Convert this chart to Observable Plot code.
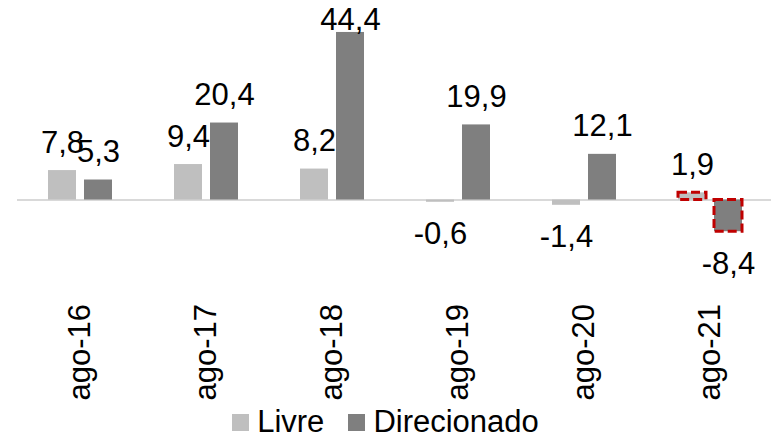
<!DOCTYPE html>
<html>
<head>
<meta charset="utf-8">
<script src="https://cdn.jsdelivr.net/npm/d3@7"></script>
<script src="https://cdn.jsdelivr.net/npm/@observablehq/plot@0.6"></script>
<style>
  html, body { margin: 0; padding: 0; background: #fff; overflow: hidden; }
  #chart { width: 771px; }
  .legend { display: flex; justify-content: center; align-items: center; height: 34px;
            font-family: "Liberation Sans", Arial, sans-serif; font-size: 31px; color: #000; }
  .legend .sw { width: 17px; height: 17px; display: inline-block; margin-right: 8px; }
  .legend .item { display: flex; align-items: center; margin: 0 12px; }
</style>
</head>
<body>
<div id="chart"></div>
<script>
const years = ["ago-16", "ago-17", "ago-18", "ago-19", "ago-20", "ago-21"];
const livre = [7.8, 9.4, 8.2, -0.6, -1.4, 1.9];
const direcionado = [5.3, 20.4, 44.4, 19.9, 12.1, -8.4];
const seriesNames = ["Livre", "Direcionado"];
const seriesColors = ["#bfbfbf", "#7f7f7f"];
const highlightYear = "ago-21";

const data = years.flatMap((y, i) => [
  {year: y, series: "Livre", value: livre[i]},
  {year: y, series: "Direcionado", value: direcionado[i]}
]);
const fmt = d => d.value.toFixed(1).replace(".", ",");

const chart = Plot.plot({
  width: 771,
  height: 405,
  marginLeft: 17,
  marginRight: -2,
  marginTop: 29.7,
  marginBottom: 103.6,
  style: "font-family: 'Liberation Sans', Arial, sans-serif; font-size: 31px; color: #000; background: #fff; overflow: visible;",
  fx: {domain: years, paddingInner: 0, paddingOuter: 0, label: null},
  x: {domain: seriesNames, paddingInner: 8 / 36, paddingOuter: 31 / 36, axis: null},
  y: {domain: [-27, 45], axis: null},
  color: {domain: seriesNames, range: seriesColors},
  marks: [
    Plot.ruleY([0], {stroke: "#d9d9d9", strokeWidth: 2}),
    Plot.barY(data, {fx: "year", x: "series", y: "value", fill: "series"}),
    Plot.barY(data, {filter: d => d.year === highlightYear, fx: "year", x: "series", y: "value",
      fill: "none", stroke: "#c00000", strokeWidth: 3, strokeDasharray: "9,4"}),
    Plot.text(data, {filter: d => d.value >= 0 && d.value < 40, fx: "year", x: "series", y: "value",
      text: fmt, lineAnchor: "bottom", dy: -18, fill: "#000"}),
    Plot.text(data, {filter: d => d.value >= 40, fx: "year", x: "series", y: "value",
      text: fmt, lineAnchor: "bottom", dy: -2, fill: "#000"}),
    Plot.text(data, {filter: d => d.value < 0, fx: "year", x: "series", y: "value",
      text: fmt, lineAnchor: "top", dy: 20, fill: "#000"}),
    Plot.axisFx({anchor: "bottom", tickSize: 0, tickPadding: 2, tickRotate: -90, label: null,
      fontSize: 31, fill: "#000"})
  ]
});
document.getElementById("chart").appendChild(chart);

const legend = document.createElement("div");
legend.className = "legend";
seriesNames.forEach((name, i) => {
  const item = document.createElement("span");
  item.className = "item";
  const sw = document.createElement("span");
  sw.className = "sw";
  sw.style.background = seriesColors[i];
  item.appendChild(sw);
  item.appendChild(document.createTextNode(name));
  legend.appendChild(item);
});
document.getElementById("chart").appendChild(legend);
</script>
</body>
</html>
